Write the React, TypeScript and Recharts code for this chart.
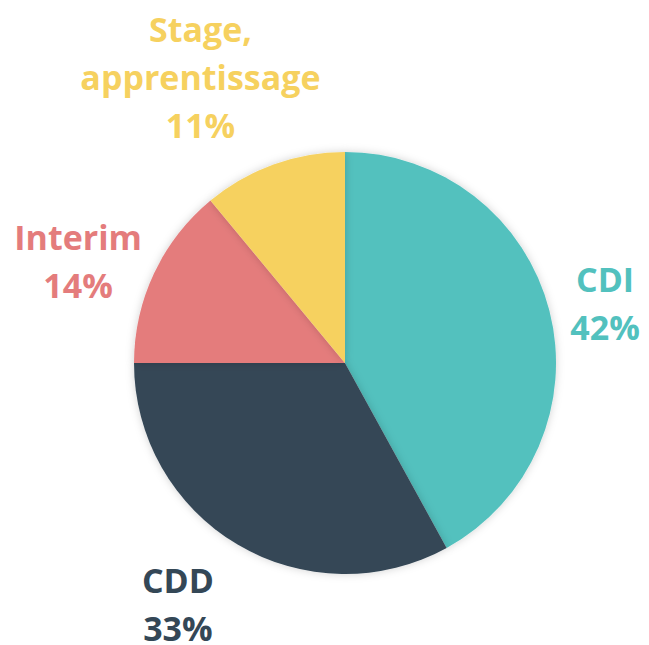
import React from "react";
import { PieChart, Pie, Cell } from "recharts";

const categories = ["CDI", "CDD", "Interim", "Stage, apprentissage"];
const values = [42, 33, 14, 11];
const colors = ["#52C1BE", "#344756", "#E47C7C", "#F6D15F"];

const data = categories.map((name, i) => ({ name, value: values[i] }));

const RAD = Math.PI / 180;
const LABEL_R = 285;
const NUDGE: [number, number][] = [
  [-16, 11],
  [-22, -4],
  [-9, 19],
  [-48, -18],
];
const FONT = "'Open Sans', sans-serif";
const FS = 34;
const LH = 48;

const renderLabel = (props: any) => {
  const { cx, cy, midAngle, index, name, value } = props;
  const x = cx + LABEL_R * Math.cos(-midAngle * RAD) + NUDGE[index][0];
  const y = cy + LABEL_R * Math.sin(-midAngle * RAD) + NUDGE[index][1];
  const parts = String(name).split(", ");
  const lines = parts.map((p, i) => (i < parts.length - 1 ? p + "," : p));
  lines.push(`${value}%`);
  const startY = y - ((lines.length - 1) * LH) / 2;
  return (
    <text
      x={x}
      y={startY}
      fill={colors[index]}
      textAnchor="middle"
      dominantBaseline="central"
      fontFamily={FONT}
      fontWeight={700}
      fontSize={FS}
    >
      {lines.map((l, i) => (
        <tspan key={i} x={x} y={startY + i * LH}>
          {l}
        </tspan>
      ))}
    </text>
  );
};

export default function App() {
  return (
    <div style={{ position: "absolute", left: 0, top: 0, width: 649, height: 645, background: "#fff" }}>
      <PieChart width={649} height={645} margin={{ top: 0, right: 0, bottom: 0, left: 0 }}>
        <defs>
          <filter id="pieShadow" x="-20%" y="-20%" width="140%" height="140%">
            <feDropShadow dx="0" dy="0" stdDeviation="4" floodColor="#000" floodOpacity="0.18" />
          </filter>
        </defs>
        <Pie
          data={data}
          dataKey="value"
          nameKey="name"
          cx={345}
          cy={363}
          outerRadius={211}
          startAngle={90}
          endAngle={-270}
          stroke="none"
          label={renderLabel}
          labelLine={false}
          isAnimationActive={false}
          style={{ filter: "url(#pieShadow)" }}
        >
          {data.map((d, i) => (
            <Cell key={d.name} fill={colors[i]} />
          ))}
        </Pie>
      </PieChart>
    </div>
  );
}
